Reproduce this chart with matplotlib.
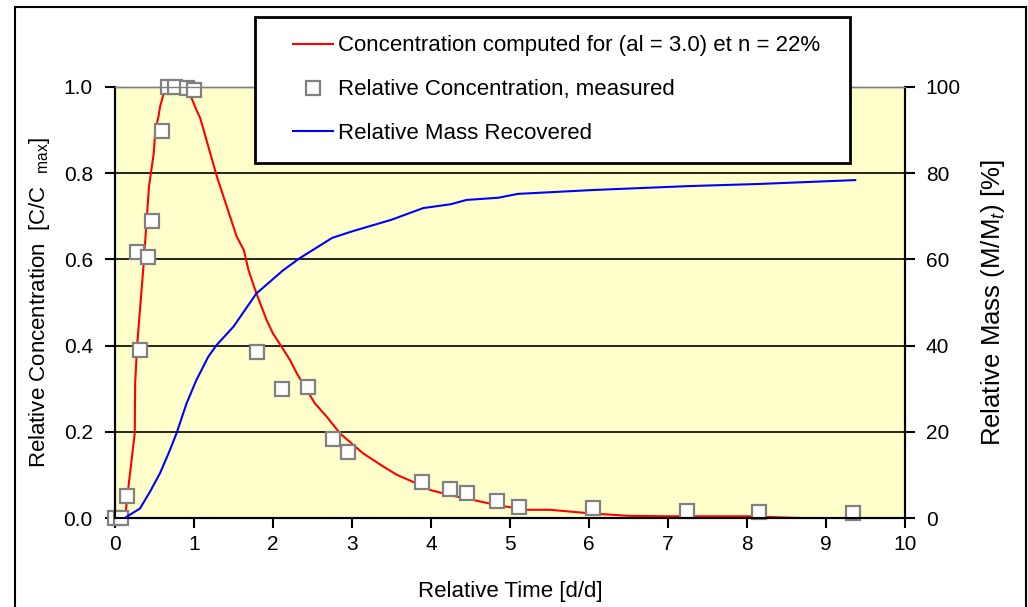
import matplotlib
matplotlib.use("Agg")
import matplotlib.pyplot as plt
from matplotlib.patches import Rectangle
from matplotlib.lines import Line2D
from matplotlib.legend_handler import HandlerLine2D

plt.rcParams['font.family'] = ['Liberation Sans', 'DejaVu Sans']
plt.rcParams['mathtext.fontset'] = 'custom'
plt.rcParams['mathtext.rm'] = 'Liberation Sans'
plt.rcParams['mathtext.it'] = 'Liberation Sans:italic'

# Computed concentration (red)
t_model = [0.127, 0.18, 0.25, 0.255, 0.28, 0.316, 0.36, 0.43, 0.49, 0.51, 0.55, 0.57, 0.61,
           0.65, 0.72, 0.80, 0.90, 0.97, 1.03, 1.08, 1.29, 1.54, 1.63, 1.69, 1.79, 1.92,
           2.0, 2.11, 2.22, 2.30, 2.53, 2.68, 2.85, 3.14, 3.40, 3.57, 3.82, 3.99, 4.24,
           4.58, 4.83, 5.21, 5.51, 6.0, 6.5, 7.0, 8.0, 8.67]
c_model = [0.0, 0.088, 0.197, 0.313, 0.40, 0.483, 0.583, 0.769, 0.846, 0.90, 0.931, 0.954,
           0.981, 1.0, 1.0, 0.998, 0.99, 0.974, 0.947, 0.927, 0.792, 0.653, 0.622, 0.575,
           0.521, 0.459, 0.428, 0.397, 0.365, 0.336, 0.266, 0.235, 0.196, 0.150, 0.119,
           0.10, 0.08, 0.065, 0.053, 0.040, 0.030, 0.019, 0.019, 0.011, 0.005, 0.004,
           0.004, 0.0]

# Measured relative concentration (squares)
t_meas = [0.0, 0.07, 0.15, 0.275, 0.316, 0.42, 0.464, 0.59, 0.675, 0.76, 0.915, 1.0,
          1.80, 2.12, 2.44, 2.755, 2.945, 3.886, 4.24, 4.46, 4.84, 5.12, 6.05, 7.24,
          8.15, 9.34]
c_meas = [0.0, 0.0, 0.05, 0.618, 0.39, 0.606, 0.69, 0.899, 1.0, 1.0, 0.997, 0.993,
          0.384, 0.299, 0.305, 0.184, 0.154, 0.084, 0.068, 0.059, 0.040, 0.026, 0.023,
          0.016, 0.014, 0.012]

# Relative mass recovered (blue, %)
t_mass = [0.148, 0.316, 0.443, 0.57, 0.696, 0.78, 0.906, 1.03, 1.18, 1.285, 1.50, 1.79,
          2.13, 2.34, 2.75, 3.0, 3.5, 3.9, 4.25, 4.45, 4.85, 5.1, 6.05, 7.25, 8.15, 9.37]
m_mass = [0.3, 2.2, 6.1, 10.4, 15.8, 19.7, 26.6, 32.0, 37.4, 40.1, 44.4, 52.1, 57.5,
          60.3, 65.0, 66.5, 69.2, 71.9, 72.8, 73.8, 74.3, 75.2, 76.1, 77.0, 77.5, 78.4]

x_ticks = [0, 1, 2, 3, 4, 5, 6, 7, 8, 9, 10]
y_ticks = [0.0, 0.2, 0.4, 0.6, 0.8, 1.0]
y2_ticks = [0, 20, 40, 60, 80, 100]

W, H = 1028, 607
fig = plt.figure(figsize=(W / 100, H / 100), dpi=100)
ax = fig.add_axes([115 / W, 1 - 518 / H, (905 - 115) / W, (518 - 87) / H])
ax.set_facecolor('#FFFFCC')
ax.set_xlim(0, 10)
ax.set_ylim(0, 1.0)
ax.set_xticks(x_ticks)
ax.set_yticks(y_ticks)
ax.set_yticklabels([f"{v:.1f}" for v in y_ticks])
for v in y_ticks[1:-1]:
    ax.axhline(v, color='black', lw=1.2, zorder=1)

ax.plot(t_model, c_model, color='red', lw=1.5, zorder=3)
ax.plot(t_meas, c_meas, ls='none', marker='s', ms=10, mfc='white', mec='#808080',
        mew=1.6, zorder=4, clip_on=False)

ax2 = ax.twinx()
ax2.set_ylim(0, 100)
ax2.set_yticks(y2_ticks)
ax2.plot(t_mass, m_mass, color='blue', lw=1.5, zorder=3)

for a in (ax, ax2):
    for s in ('left', 'right', 'bottom'):
        a.spines[s].set_color('black')
        a.spines[s].set_linewidth(1.5)
    a.spines['top'].set_color('#808080')
    a.spines['top'].set_linewidth(1.0)
    a.tick_params(direction='out', length=7, width=1.5, labelsize=15, color='black')
ax.tick_params(axis='x', pad=5)
ax.tick_params(axis='y', pad=9)
ax2.tick_params(axis='y', pad=8)

ax.set_xlabel('Relative Time [d/d]', fontsize=16, labelpad=20)
ax.set_ylabel(r'Relative Concentration  [C/C  $_{\mathrm{max}}$]', fontsize=16, labelpad=8)
ax2.set_ylabel(r'Relative Mass (M/M$_{t}$) [%]', fontsize=18.5, labelpad=13)

handles = [
    Line2D([], [], color='red', lw=1.5),
    Line2D([], [], ls='none', marker='s', ms=10, mfc='white', mec='#808080', mew=1.6),
    Line2D([], [], color='blue', lw=1.5),
]
labels = ['Concentration computed for (al = 3.0) et n = 22%',
          'Relative Concentration, measured',
          'Relative Mass Recovered']
hmap = {h: HandlerLine2D(xpad=0.88) for h in handles}
leg = fig.legend(handles, labels, loc='upper left',
                 bbox_to_anchor=(255 / W, 1 - 17 / H, (850 - 255) / W, 0.0),
                 mode='expand', fontsize=16, frameon=True, fancybox=False,
                 edgecolor='black', framealpha=1, handlelength=2.68,
                 handletextpad=0.22, labelspacing=1.03, borderpad=0.83,
                 borderaxespad=0, handler_map=hmap)
leg.get_frame().set_linewidth(2)

fig.patches.append(Rectangle((15 / W, -0.05), (1026 - 15) / W, 1 - 7 / H + 0.05,
                             transform=fig.transFigure, fill=False, ec='black',
                             lw=1.5, zorder=10))

fig.savefig('out.png', dpi=100)
